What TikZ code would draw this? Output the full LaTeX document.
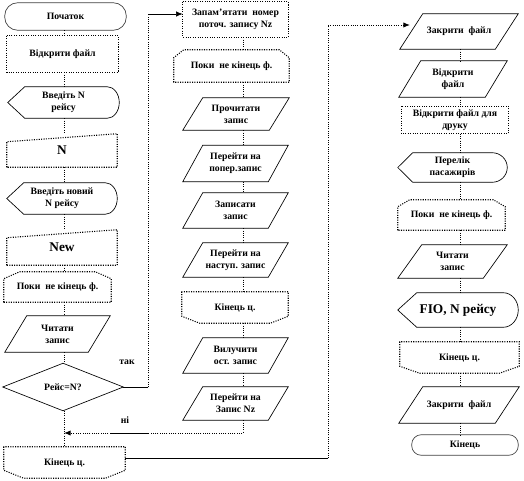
\documentclass[tikz,border=0pt]{standalone}
\usepackage{fontspec}
\setmainfont{Liberation Serif}
\usetikzlibrary{calc,arrows.meta}
% shape outlines drawn around invisible sized nodes
\newcommand\shRect[1]{\draw[brd] (#1.north west) rectangle (#1.south east);}
\newcommand\shTerm[2]{\draw[sld,draw=black!75,rounded corners=#2*0.75pt] (#1.north west) rectangle (#1.south east);}
\newcommand\shPara[2]{\draw[sld] ($(#1.north west)+(#2*0.75pt,0pt)$) -- (#1.north east) -- ($(#1.south east)-(#2*0.75pt,0pt)$) -- (#1.south west) -- cycle;}
\newcommand\shManual[2]{\draw[brd] (#1.south west) -- ($(#1.north west)+(0pt,-#2*0.75pt)$) -- (#1.north east) -- (#1.south east) -- cycle;}
\newcommand\shLoopA[3]{\draw[brd] (#1.south west) -- ($(#1.north west)+(0pt,-#3*0.75pt)$) -- ($(#1.north west)+(#2*0.75pt,0pt)$) -- ($(#1.north east)-(#2*0.75pt,0pt)$) -- ($(#1.north east)+(0pt,-#3*0.75pt)$) -- (#1.south east) -- cycle;}
\newcommand\shLoopB[3]{\draw[brd] (#1.north west) -- ($(#1.south west)+(0pt,#3*0.75pt)$) -- ($(#1.south west)+(#2*0.75pt,0pt)$) -- ($(#1.south east)-(#2*0.75pt,0pt)$) -- ($(#1.south east)+(0pt,#3*0.75pt)$) -- (#1.north east) -- cycle;}
\newcommand\shDisp[3]{\draw[sld] (#1.west) -- ($(#1.north west)+(#2*0.75pt,0pt)$) -- ($(#1.north east)-(#3*0.75pt,0pt)$) .. controls ($(#1.north east)-(0.45*#3*0.75pt,0pt)$) and ($(#1.east)!0.55!(#1.north east)$) .. (#1.east) .. controls ($(#1.east)!0.55!(#1.south east)$) and ($(#1.south east)-(0.45*#3*0.75pt,0pt)$) .. ($(#1.south east)-(#3*0.75pt,0pt)$) -- ($(#1.south west)+(#2*0.75pt,0pt)$) -- cycle;}
\newcommand\shDia[1]{\draw[sld] (#1.west) -- (#1.north) -- (#1.east) -- (#1.south) -- cycle;}
\begin{document}
\begin{tikzpicture}[x=0.75pt,y=-0.75pt,
  every node/.style={font=\bfseries\fontsize{7.3}{9}\selectfont, align=center, inner sep=0pt},
  box/.style 2 args={draw=none, minimum width=#1*0.75pt, minimum height=#2*0.75pt},
  big/.style={font=\bfseries\fontsize{10}{12}\selectfont},
  brd/.style={draw=black, line width=0.8pt, densely dotted},
  sld/.style={draw=black, line width=0.5pt},
  con/.style={line width=0.7pt, densely dotted},
  arr/.style={-{Latex[length=5pt,width=4pt]}}
]
\useasboundingbox (0,0) rectangle (524,481);
% column x positions of connectors
\coordinate (c1) at (64,0);
\coordinate (c2) at (243,0);
\coordinate (c3) at (460,0);
% ---------- column 1
\node[box={121}{27}] (s1) at (65.5,16.5) {Початок};
\node[box={111}{36}] (o1) at (62.5,54) {Відкрити файл};
\node[box={111}{31}] (d1) at (63.5,102.5) {Введіть N\\рейсу};
\node[box={110}{33},big] (n1) at (62,150.5) {N};
\node[box={110}{31}] (d2) at (62,198.5) {Введіть новий\\N рейсу};
\node[box={110}{35},big] (n2) at (62,247.5) {New};
\node[box={107}{30}] (l1) at (57.5,287) {Поки\ \ не кінець ф.};
\node[box={105}{36}] (p1) at (57.5,334) {Читати\\запис};
\node[box={120}{47}] (dia) at (63,387) {Рейс=N?};
\node[box={121}{31}] (le1) at (64.5,462.5) {Кінець ц.};
\shTerm{s1}{13}
\shRect{o1}
\shDisp{d1}{17}{12}
\shManual{n1}{8}
\shDisp{d2}{17}{12}
\shManual{n2}{8}
\shLoopA{l1}{16}{7}
\shPara{p1}{22}
\shDia{dia}
\shLoopB{le1}{20}{8}
% ---------- column 2
\node[box={105}{35}] (r2) at (235.5,19.5) {Запам'ятати\ \ номер\\поточ. запису Nz};
\node[box={115}{32}] (l2) at (231.5,66) {Поки\ \ не кінець ф.};
\node[box={106}{32}] (p2) at (236,114) {Прочитати\\запис};
\node[box={105}{36}] (p3) at (235.5,163.5) {Перейти на\\попер.запис};
\node[box={105}{35}] (p4) at (235.5,210.5) {Записати\\запис};
\node[box={105}{34}] (p5) at (235.5,260) {Перейти на\\наступ. запис};
\node[box={106}{31}] (le2) at (235,307.5) {Кінець ц.};
\node[box={105}{35}] (p6) at (235.5,355.5) {Вилучити\\ост. запис};
\node[box={105}{33}] (p7) at (235.5,403.5) {Перейти на\\Запис Nz};
\shRect{r2}
\shLoopA{l2}{10}{8}
\shPara{p2}{20}
\shPara{p3}{20}
\shPara{p4}{20}
\shPara{p5}{20}
\shLoopB{le2}{18}{7}
\shPara{p6}{20}
\shPara{p7}{20}
% ---------- column 3
\node[box={118}{35}] (p8) at (459,31.5) {Закрити\ \ файл};
\node[box={108}{36}] (p9) at (453,79) {Відкрити\\файл};
\node[box={106}{27}] (r3) at (455,120) {Відкрити файл для\\друку};
\node[box={109}{29}] (d3) at (452.5,167.5) {Перелік\\пасажирів};
\node[box={107}{30}] (l3) at (451.5,215) {Поки\ \ не кінець ф.};
\node[box={109}{33}] (p10) at (452.5,261.5) {Читати\\запис};
\node[box={120}{34},big] (d4) at (458,310) {FIO, N рейсу};
\node[box={119}{31}] (le3) at (459.5,357.5) {Кінець ц.};
\node[box={120}{36}] (p11) at (459,405) {Закрити\ \ файл};
\node[box={106}{20}] (e3) at (465,445) {Кінець};
\shPara{p8}{23}
\shPara{p9}{22}
\shRect{r3}
\shDisp{d3}{15}{15}
\shLoopA{l3}{12}{7}
\shPara{p10}{24}
\shDisp{d4}{19}{15}
\shLoopB{le3}{20}{7}
\shPara{p11}{24}
\shTerm{e3}{9.5}
% ---------- vertical connectors
\foreach \a/\b in {s1/o1,o1/d1,d1/n1,n1/d2,d2/n2,n2/l1,l1/p1,p1/dia,dia/le1}
  \draw[con] (\a.south -| c1) -- (\b.north -| c1);
\foreach \a/\b in {r2/l2,l2/p2,p2/p3,p3/p4,p4/p5,p5/le2,le2/p6,p6/p7}
  \draw[con] (\a.south -| c2) -- (\b.north -| c2);
\foreach \a/\b in {p8/p9,p9/r3,r3/d3,d3/l3,l3/p10,p10/d4,d4/le3,le3/p11,p11/e3}
  \draw[con] (\a.south -| c3) -- (\b.north -| c3);
% ---------- "yes" branch
\coordinate (k1) at (148,387);
\coordinate (k2) at (148,14);
\draw[sld] (dia.east) -- (k1);
\draw[con] (k1) -- (k2);
\draw[sld,arr] (k2) -- (k2 -| r2.west);
\node (yes) at (127,362) {так};
% ---------- return from column 2
\coordinate (r1) at (243,433);
\coordinate (q1) at (148,433);
\coordinate (q2) at (110,433);
\draw[con,arr] (p7.south -| c2) -- (r1) -- (r1 -| c1);
\draw[sld] (q1) -- (q2);
\node (no) at (125,420) {ні};
% ---------- to column 3
\coordinate (m1) at (328,458);
\coordinate (m2) at (328,25);
\coordinate (in3) at (410,25);
\draw[sld] (m1 -| le1.east) -- (m1);
\draw[con] (m1) -- (m2);
\draw[con,arr] (m2) -- (in3);
\end{tikzpicture}
\end{document}
